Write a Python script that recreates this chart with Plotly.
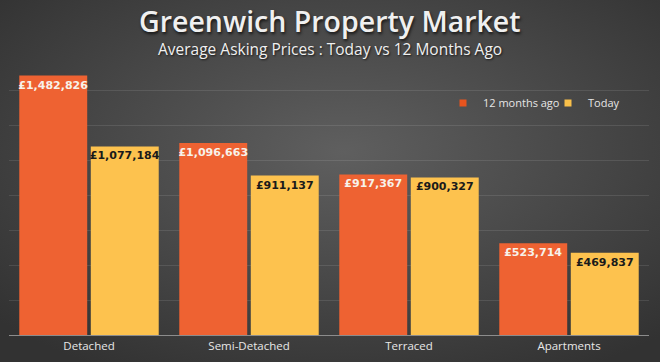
import base64
import plotly.graph_objects as go

categories = ["Detached", "Semi-Detached", "Terraced", "Apartments"]
prices_12m_ago = [1482826, 1096663, 917367, 523714]
prices_today = [1077184, 911137, 900327, 469837]
series_names = ["12 months ago", "Today"]

W, H = 660, 362
ML, MR, MT, MB = 9, 11, 55, 27
pw, ph = W - ML - MR, H - MT - MB

def fmt(v):
    return "£{:,}".format(v)

svg = (
    '<svg xmlns="http://www.w3.org/2000/svg" width="660" height="362">'
    '<defs><radialGradient id="g" cx="52%" cy="42%" r="70%">'
    '<stop offset="0" stop-color="#5f5f5f"/><stop offset="1" stop-color="#323232"/>'
    '</radialGradient></defs><rect width="660" height="362" fill="url(#g)"/></svg>'
)
bg_src = "data:image/svg+xml;base64," + base64.b64encode(svg.encode()).decode()

label_font = "DejaVu Sans"
fig = go.Figure()
fig.add_trace(go.Bar(
    x=categories, y=prices_12m_ago, name=series_names[0],
    marker=dict(color="#EE6232", line=dict(width=0)),
    text=[fmt(v) for v in prices_12m_ago], textposition="inside",
    insidetextanchor="end", textangle=0, constraintext="none",
    textfont=dict(family=label_font, size=11, color="#f7f2ea", weight="bold"),
    showlegend=False,
))
fig.add_trace(go.Bar(
    x=categories, y=prices_today, name=series_names[1],
    marker=dict(color="#FDC24E", line=dict(width=0)),
    text=[fmt(v) for v in prices_today], textposition="inside",
    insidetextanchor="end", textangle=0, constraintext="none",
    textfont=dict(family=label_font, size=11, color="#1a1a1a", weight="bold"),
    showlegend=False,
))
# legend entries with small square symbols
fig.add_trace(go.Scatter(x=[None], y=[None], mode="markers", name=series_names[0],
                         marker=dict(symbol="square", size=7, color="#E8541E")))
fig.add_trace(go.Scatter(x=[None], y=[None], mode="markers", name=series_names[1],
                         marker=dict(symbol="square", size=7, color="#F9C04A")))

fig.update_layout(
    width=W, height=H,
    margin=dict(l=ML, r=MR, t=MT, b=MB, pad=0, autoexpand=False),
    paper_bgcolor="#454545", plot_bgcolor="rgba(0,0,0,0)",
    barmode="group", bargap=0.106, bargroupgap=0.05,
    font=dict(family="Open Sans", color="#e8e8e8"),
    showlegend=True,
    legend=dict(orientation="h", x=(443 - ML) / pw, y=(MT + ph - 103) / ph,
                xanchor="left", yanchor="middle",
                bgcolor="rgba(0,0,0,0)", font=dict(family="Open Sans", size=11, color="#e6e6e6"),
                entrywidth=60, entrywidthmode="pixels", itemwidth=30),
    xaxis=dict(showgrid=False, showline=False, ticks="",
               tickfont=dict(family="Open Sans", size=11.5, color="#e8e8e8"),
               ticklabelstandoff=2),
    yaxis=dict(range=[0, 1600000], dtick=200000, showticklabels=False,
               showgrid=True, gridcolor="rgba(255,255,255,0.10)", gridwidth=1,
               zeroline=True, zerolinecolor="#8c8c8c", zerolinewidth=1),
    images=[dict(source=bg_src, xref="paper", yref="paper",
                 x=-ML / pw, y=1 + MT / ph, sizex=W / pw, sizey=H / ph,
                 xanchor="left", yanchor="top", sizing="stretch", layer="below")],
    annotations=[
        dict(text="Greenwich Property Market", xref="paper", yref="paper",
             x=(330 - ML) / pw, y=1 + (MT - 21) / ph, xanchor="center", yanchor="middle",
             showarrow=False,
             font=dict(family="Open Sans", size=28.5, color="#f0f0f0", weight=600,
                       shadow="1px 2px 3px rgba(0,0,0,0.7)")),
        dict(text="Average Asking Prices : Today vs 12 Months Ago", xref="paper", yref="paper",
             x=(330 - ML) / pw, y=1 + (MT - 49) / ph, xanchor="center", yanchor="middle",
             showarrow=False,
             font=dict(family="Open Sans", size=15.5, color="#f0f0f0", weight=500,
                       shadow="1px 1px 2px rgba(0,0,0,0.7)")),
    ],
)

fig.write_html("out.html", config={"displayModeBar": False},
               post_script="document.body.style.margin='0';document.body.style.overflow='hidden';")
